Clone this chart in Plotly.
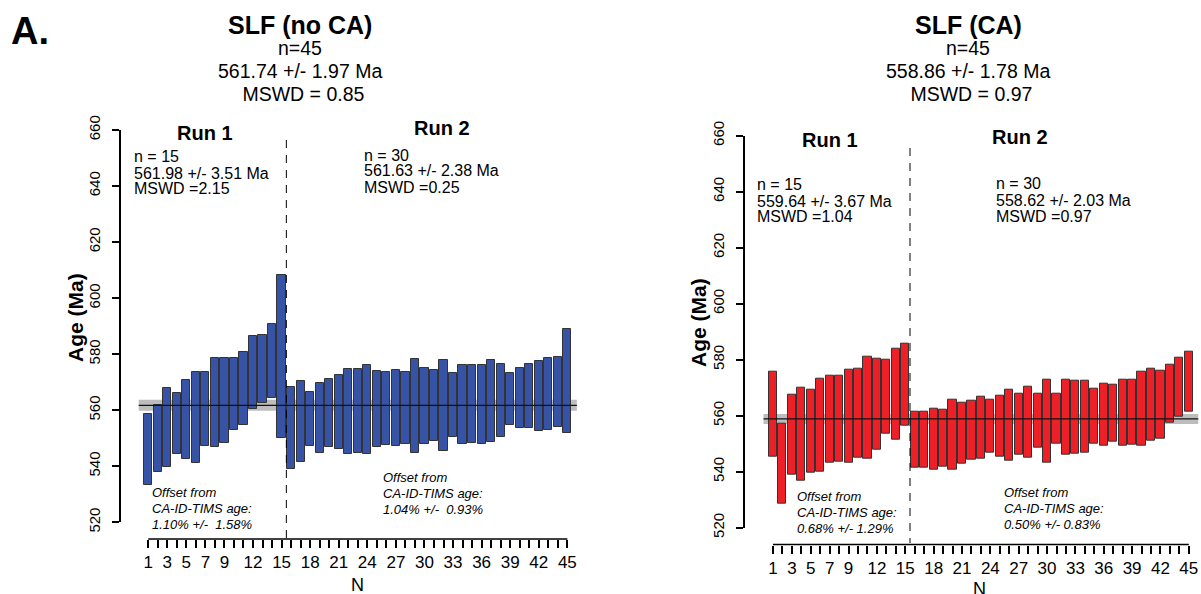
import plotly.graph_objects as go

# ---------------- data ----------------
n_idx = list(range(1, 46))

left_hi = [558.5, 562.0, 568.1, 566.0, 570.7, 573.8, 573.5, 578.8, 578.5, 578.7,
           580.6, 586.4, 586.8, 590.6, 608.2, 568.3, 570.5, 566.4, 569.6, 571.1,
           572.6, 574.8, 574.6, 576.0, 574.0, 573.6, 574.4, 573.8, 578.2, 575.1,
           574.3, 578.0, 573.3, 576.2, 576.0, 576.3, 578.0, 576.5, 573.3, 575.1,
           576.5, 577.5, 578.5, 579.0, 589.0]
left_lo = [533.2, 538.0, 539.8, 544.3, 542.7, 541.0, 547.1, 546.7, 548.2, 552.9,
           554.9, 560.5, 562.6, 564.5, 550.1, 538.9, 541.5, 547.1, 544.9, 546.9,
           546.1, 544.4, 544.9, 544.4, 546.7, 547.6, 547.3, 548.1, 544.8, 548.0,
           548.9, 545.5, 550.4, 548.0, 548.3, 548.1, 548.5, 550.4, 554.6, 553.8,
           553.8, 552.7, 552.9, 554.0, 551.7]

right_hi = [575.7, 557.3, 567.5, 569.9, 569.2, 573.1, 574.2, 574.4, 576.3, 576.9,
            581.0, 580.3, 580.1, 583.9, 585.8, 561.3, 561.3, 562.4, 562.0, 565.6,
            564.5, 565.4, 566.8, 565.7, 567.1, 569.2, 567.7, 570.4, 567.7, 573.0,
            567.7, 572.7, 572.5, 572.4, 569.6, 571.5, 571.0, 573.0, 572.9, 575.7,
            576.8, 576.1, 578.2, 580.8, 582.8]
right_lo = [545.5, 528.7, 538.8, 536.9, 539.5, 540.1, 543.3, 543.7, 543.1, 544.9,
            544.5, 547.8, 553.5, 551.4, 556.4, 541.5, 541.6, 540.7, 541.9, 540.6,
            543.0, 544.4, 544.6, 546.7, 545.5, 543.8, 546.1, 545.1, 548.7, 543.3,
            549.9, 546.0, 546.4, 546.9, 550.1, 549.3, 550.7, 549.2, 549.5, 549.2,
            551.0, 551.9, 557.5, 559.6, 561.5]

left_mean, left_err = 561.74, 1.97
right_mean, right_err = 558.86, 1.78
run1_n = 15

tick_labels_shown = [1, 3, 5, 7, 9, 12, 15, 18, 21, 24, 27, 30, 33, 36, 39, 42, 45]
y_ticks = [520, 540, 560, 580, 600, 620, 640, 660]

left_title = ["SLF (no CA)", "n=45", "561.74 +/- 1.97 Ma", " MSWD = 0.85"]
right_title = ["SLF (CA)", "n=45", "558.86 +/- 1.78 Ma", " MSWD = 0.97"]
left_run1 = ["n = 15", "561.98 +/- 3.51 Ma", "MSWD =2.15"]
left_run2 = ["n = 30", "561.63 +/- 2.38 Ma", "MSWD =0.25"]
right_run1 = ["n = 15", "559.64 +/- 3.67 Ma", "MSWD =1.04"]
right_run2 = ["n = 30", "558.62 +/- 2.03 Ma", "MSWD =0.97"]
left_off1 = ["Offset from", "CA-ID-TIMS age:", "1.10% +/-  1.58%"]
left_off2 = ["Offset from", "CA-ID-TIMS age:", "1.04% +/-  0.93%"]
right_off1 = ["Offset from", "CA-ID-TIMS age:", "0.68% +/- 1.29%"]
right_off2 = ["Offset from", "CA-ID-TIMS age:", "0.50% +/- 0.83%"]

BLUE = "#3653a5"
RED = "#ee2027"
FONT = "Liberation Sans, Arial, Helvetica, sans-serif"
W, H = 1201, 594


def px(x):
    return x / W


def py(y):
    return 1 - y / H


fig = go.Figure()

fig.add_trace(go.Bar(
    x=n_idx, y=[h - l for h, l in zip(left_hi, left_lo)], base=left_lo,
    width=0.86, marker=dict(color=BLUE, line=dict(color="#333333", width=1)),
    xaxis="x", yaxis="y", showlegend=False))
fig.add_trace(go.Bar(
    x=n_idx, y=[h - l for h, l in zip(right_hi, right_lo)], base=right_lo,
    width=0.86, marker=dict(color=RED, line=dict(color="#333333", width=1)),
    xaxis="x2", yaxis="y2", showlegend=False))

ticktext = [str(i) if i in tick_labels_shown else "" for i in n_idx]

panels = [
    # xaxis name, yaxis name, x domain px, x range, y domain px (bottom,top), xaxis y px
    ("x", "y", (121, 594), (-1.86, 47.8), (522.3, 130.0), 539.0),
    ("x2", "y2", (745, 1201), (-1.96, 46.29), (527.7, 135.7), 544.5),
]

for xa, ya, xd, xr, yd, xpos in panels:
    xkey = "xaxis" if xa == "x" else "xaxis2"
    ykey = "yaxis" if ya == "y" else "yaxis2"
    fig.update_layout({
        xkey: dict(domain=[px(xd[0]), px(xd[1])], range=list(xr), anchor="free",
                   position=py(xpos), showline=False, showgrid=False, zeroline=False,
                   automargin=False,
                   ticks="outside", ticklen=8, tickwidth=1.5, tickcolor="black",
                   tickvals=n_idx, ticktext=ticktext, tickangle=0,
                   tickfont=dict(size=17, color="black", family=FONT)),
        ykey: dict(domain=[py(yd[0]), py(yd[1])], range=[520, 660], anchor=xa,
                   showline=True, linewidth=1.5, linecolor="black", showgrid=False,
                   zeroline=False, automargin=False, ticks="outside", ticklen=7,
                   tickwidth=1.5, ticklabelstandoff=6,
                   tickcolor="black", tickvals=y_ticks, tickangle=-90,
                   tickfont=dict(size=15, color="black", family=FONT)),
    })
    # x axis line spanning first to last index
    fig.add_shape(type="line", xref=xa, yref="paper", x0=n_idx[0], x1=n_idx[-1],
                  y0=py(xpos), y1=py(xpos), line=dict(color="black", width=1.5))

# mean bands and lines
for xa, ya, m, e in [("x", "y", left_mean, left_err), ("x2", "y2", right_mean, right_err)]:
    fig.add_shape(type="rect", xref=xa, yref=ya, x0=0, x1=len(n_idx) + 1,
                  y0=m - e, y1=m + e, fillcolor="#bdbdbd", line=dict(width=0), layer="below")
    fig.add_shape(type="line", xref=xa, yref=ya, x0=0, x1=len(n_idx) + 1,
                  y0=m, y1=m, line=dict(color="#111111", width=1.3), layer="above")

# dashed run separator
fig.add_shape(type="line", xref="x", yref="paper", x0=run1_n + 0.5, x1=run1_n + 0.5,
              y0=py(140), y1=py(538), line=dict(color="black", width=1, dash="8px,7px"))
fig.add_shape(type="line", xref="x2", yref="paper", x0=run1_n + 0.5, x1=run1_n + 0.5,
              y0=py(148), y1=py(543), line=dict(color="black", width=1, dash="8px,7px"))

ann = []


def text(x, y, s, size, bold=False, italic=False, anchor="center"):
    if bold:
        s = "<b>" + s + "</b>"
    if italic:
        s = "<i>" + s + "</i>"
    ann.append(dict(x=px(x), y=py(y), xref="paper", yref="paper", text=s,
                    showarrow=False, xanchor=anchor, yanchor="middle",
                    font=dict(size=size, color="black", family=FONT)))


text(30, 31, "A.", 38, bold=True)

for cx, lines in [(300, left_title), (968, right_title)]:
    text(cx, 25, lines[0], 25, bold=True)
    for i, s in enumerate(lines[1:]):
        text(cx, 48.5 + i * 22.5, s, 19.5)

text(205, 133, "Run 1", 20, bold=True)
text(442, 128, "Run 2", 20, bold=True)
text(830, 140, "Run 1", 20, bold=True)
text(1020, 137, "Run 2", 20, bold=True)

for x0, y0, lines in [(132, 157, left_run1), (362, 155, left_run2),
                      (755, 185, right_run1), (994, 184, right_run2)]:
    for i, s in enumerate(lines):
        text(x0, y0 + i * 16, s, 16, anchor="left")

for x0, y0, lines in [(150, 492, left_off1), (381, 477, left_off2),
                      (795, 496, right_off1), (1002, 492, right_off2)]:
    for i, s in enumerate(lines):
        text(x0, y0 + i * 16, s, 13, italic=True, anchor="left")

text(357, 585, "N", 18)
text(980, 589, "N", 18)

for ax_x, ax_y in [(75, 318), (698, 323)]:
    ann.append(dict(x=px(ax_x), y=py(ax_y), xref="paper", yref="paper",
                    text="<b>Age (Ma)</b>", showarrow=False, textangle=-90,
                    xanchor="center", yanchor="middle",
                    font=dict(size=21, color="black", family=FONT)))

fig.update_layout(
    width=W, height=H, margin=dict(l=0, r=0, t=0, b=0, autoexpand=False),
    paper_bgcolor="white", plot_bgcolor="white",
    font=dict(family=FONT, color="black"),
    annotations=ann, barmode="overlay", bargap=0, hovermode=False,
)

fig.write_html("out.html", config={"displayModeBar": False},
               post_script="document.body.style.margin='0';document.body.style.overflow='hidden';")
